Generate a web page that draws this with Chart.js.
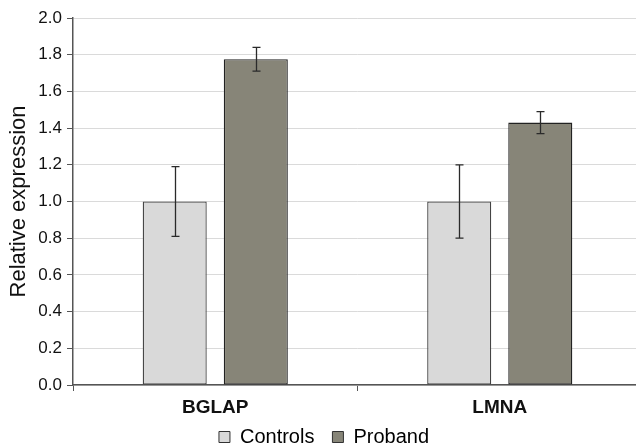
<!DOCTYPE html>
<html>
<head>
<meta charset="utf-8">
<script src="https://cdn.jsdelivr.net/npm/chart.js@4.4.1/dist/chart.umd.min.js"></script>
<style>
  html, body { margin: 0; padding: 0; background: #fff; overflow: hidden; }
  #wrap { width: 642px; height: 448px; }
</style>
</head>
<body>
<div id="wrap"><canvas id="chart"></canvas></div>
<script>
// Values.
const genes = ["BGLAP", "LMNA"];
const controls = [1.0, 1.0];
const controlsLow = [0.81, 0.80];
const controlsHigh = [1.19, 1.20];
const proband = [1.775, 1.43];
const probandLow = [1.71, 1.37];
const probandHigh = [1.84, 1.49];
const yTicks = [0, 0.2, 0.4, 0.6, 0.8, 1.0, 1.2, 1.4, 1.6, 1.8, 2.0];

const FONT = "Liberation Sans, Arial, sans-serif";

// Draws vertical error bars with small caps on top of each bar.
const errorBars = {
    id: "errorBars",
    afterDatasetsDraw(chart) {
        const ctx = chart.ctx;
        const y = chart.scales.y;
        ctx.save();
        ctx.strokeStyle = "#2a2a2a";
        ctx.lineWidth = 1.3;
        chart.data.datasets.forEach((ds, di) => {
            const meta = chart.getDatasetMeta(di);
            meta.data.forEach((bar, i) => {
                const x = Math.round(bar.x) + 0.5;
                const top = y.getPixelForValue(ds.errHigh[i]);
                const bot = y.getPixelForValue(ds.errLow[i]);
                ctx.beginPath();
                ctx.moveTo(x, top); ctx.lineTo(x, bot);
                ctx.moveTo(x - 4, top); ctx.lineTo(x + 4, top);
                ctx.moveTo(x - 4, bot); ctx.lineTo(x + 4, bot);
                ctx.stroke();
            });
        });
        ctx.restore();
    },
};

// The x axis is squeezed so the legend sits close under it; let its
// labels spill past the squeezed box instead of being clipped.
const unclipXLabels = {
    id: "unclipXLabels",
    afterLayout(chart) {
        chart.scales.x.bottom = chart.height;
    },
};

new Chart(document.getElementById("chart"), {
    type: "bar",
    data: {
        labels: genes,
        datasets: [
            {
                label: "Controls",
                data: controls,
                errLow: controlsLow,
                errHigh: controlsHigh,
                backgroundColor: "#d9d9d9",
                borderColor: "#444",
                borderWidth: 1.3,
                borderSkipped: false,
                barPercentage: 0.79,
                categoryPercentage: 0.57,
            },
            {
                label: "Proband",
                data: proband,
                errLow: probandLow,
                errHigh: probandHigh,
                backgroundColor: "#878578",
                borderColor: "#222",
                borderWidth: 1.3,
                borderSkipped: false,
                barPercentage: 0.79,
                categoryPercentage: 0.57,
            },
        ],
    },
    options: {
        responsive: true,
        maintainAspectRatio: false,
        animation: false,
        layout: { padding: { top: 18, right: 0, left: 6, bottom: 0 } },
        plugins: {
            tooltip: { enabled: false },
            legend: {
                position: "bottom",
                maxHeight: 39,
                labels: {
                    boxWidth: 11,
                    boxHeight: 11,
                    padding: 18,
                    color: "#111",
                    font: { family: FONT, size: 20 },
                    generateLabels(chart) {
                        return chart.data.datasets.map((ds, i) => ({
                            text: ds.label,
                            fillStyle: ds.backgroundColor,
                            strokeStyle: "#333",
                            lineWidth: 1,
                            datasetIndex: i,
                        }));
                    },
                },
            },
        },
        scales: {
            x: {
                offset: true,
                afterFit(scale) { scale.height = 24; },
                grid: {
                    offset: true,
                    drawOnChartArea: false,
                    tickLength: 6,
                    tickColor: "#555",
                },
                border: { color: "#555", width: 1.5 },
                ticks: {
                    color: "#111",
                    padding: 5,
                    font: { family: FONT, size: 19, weight: "bold" },
                },
            },
            y: {
                min: 0,
                max: 2.0,
                afterBuildTicks(scale) {
                    scale.ticks = yTicks.map(v => ({ value: v }));
                },
                afterFit(scale) { scale.width = 67; },
                grid: {
                    color: "#dadada",
                    tickLength: 6,
                    tickColor: "#555",
                },
                border: { color: "#555", width: 1.5 },
                ticks: {
                    color: "#111",
                    padding: 5,
                    font: { family: FONT, size: 17 },
                    callback: v => v.toFixed(1),
                },
                title: {
                    display: true,
                    text: "Relative expression",
                    color: "#111",
                    padding: 0,
                    font: { family: FONT, size: 22 },
                },
            },
        },
    },
    plugins: [errorBars, unclipXLabels],
});
</script>
</body>
</html>
